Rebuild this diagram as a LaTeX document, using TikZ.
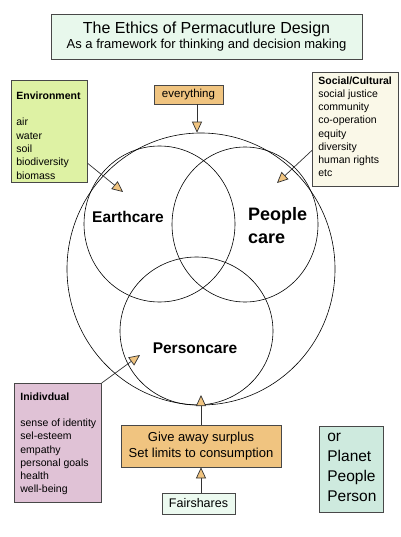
\documentclass[tikz,border=0pt]{standalone}
\usepackage{fontspec}
\setmainfont{Liberation Sans}
\usetikzlibrary{arrows.meta,shapes.geometric,calc}
\definecolor{titlefill}{RGB}{232,248,236}
\definecolor{envfill}{RGB}{222,242,164}
\definecolor{socfill}{RGB}{250,248,232}
\definecolor{indfill}{RGB}{224,194,214}
\definecolor{orangefill}{RGB}{240,196,128}
\definecolor{fairfill}{RGB}{236,250,240}
\definecolor{orfill}{RGB}{206,234,222}
\definecolor{boxline}{RGB}{72,72,72}
\definecolor{arrline}{RGB}{50,50,50}
\begin{document}
\begin{tikzpicture}[x=1pt,y=-1pt,
  box/.style={draw=boxline,line width=0.7pt,inner sep=0pt},
  arr/.style={draw=arrline,line width=0.7pt,-{Triangle[length=11pt,width=10pt,fill=orangefill]}},
  ring/.style={ellipse,draw=black,line width=0.6pt,inner sep=0pt},
  lab/.style={font=\bfseries\fontsize{15.5}{18}\selectfont}]
\useasboundingbox[fill=white] (0,0) rectangle (400,537);

% circles
\node[ring,minimum width=268pt,minimum height=272pt] (big) at (201,269) {};
\node[ring,minimum width=151pt,minimum height=156pt] (earth) at (159.5,224) {};
\node[ring,minimum width=146pt,minimum height=155pt] (people) at (245,224.5) {};
\node[ring,minimum width=153pt,minimum height=148pt] (person) at (196.5,331) {};

% labels
\node[lab] (labearth) at (128,217) {Earthcare};
\node[anchor=west,align=left,inner sep=0pt,font=\bfseries\fontsize{18}{23}\selectfont] (labpeople) at (248,225.5) {People\\care};
\node[lab] (labperson) at (195,348) {Personcare};

% title
\node[box,fill=titlefill,minimum width=311pt,minimum height=45pt,align=center] (title) at (206.5,36.5)
  {\fontsize{16}{18}\selectfont The Ethics of Permacutlure Design\\[1pt]
   \fontsize{13}{16}\selectfont As a framework for thinking and decision making};

% everything
\node[box,fill=orangefill,minimum width=69pt,minimum height=19pt,font=\fontsize{11.5}{14}\selectfont] (every) at (188.5,94.5) {everything};

% environment
\node[box,fill=envfill,anchor=north west] (env) at (11,80)
  {\begin{minipage}[t][102pt][t]{76pt}\fontsize{10.5}{13.3}\selectfont\raggedright\leftskip=5pt
   \rule{0pt}{19pt}\textbf{Environment}\\ \mbox{}\\ air\\ water\\ soil\\ biodiversity\\ biomass
   \end{minipage}};

% social
\node[box,fill=socfill,anchor=north west] (soc) at (312,72)
  {\begin{minipage}[t][114pt][t]{86pt}\fontsize{10.5}{13.2}\selectfont\raggedright\leftskip=6pt
   \rule{0pt}{12pt}\textbf{Social/Cultural}\\ social justice\\ community\\ co-operation\\ equity\\ diversity\\ human rights\\ etc
   \end{minipage}};

% individual
\node[box,fill=indfill,anchor=north west] (ind) at (14,383)
  {\begin{minipage}[t][119pt][t]{87pt}\fontsize{10.5}{13.2}\selectfont\raggedright\leftskip=6pt
   \rule{0pt}{17pt}\textbf{Inidivdual}\\ \mbox{}\\ sense of identity\\ sel-esteem\\ empathy\\ personal goals\\ health\\ well-being
   \end{minipage}};

% give away
\node[box,fill=orangefill,minimum width=160pt,minimum height=42pt,align=center,font=\fontsize{13}{16}\selectfont] (give) at (201,446)
  {Give away surplus\\Set limits to consumption};

% fairshares
\node[box,fill=fairfill,minimum width=73pt,minimum height=21pt,font=\fontsize{12.5}{15}\selectfont] (fair) at (198.5,503.5) {Fairshares};

% or box
\node[box,fill=orfill,anchor=north west] (orbox) at (319,426)
  {\begin{minipage}[t][86pt][t]{64pt}\fontsize{15.5}{20}\selectfont\raggedright\leftskip=8pt
   \rule{0pt}{15pt}or\\ Planet\\ People\\ Person
   \end{minipage}};

% arrow end points
\coordinate (envtip) at (123,192);
\coordinate (soctip) at (277,183);
\coordinate (indtip) at (140,355);
\coordinate (givetip) at (201,395);

% arrows
\draw[arr] ($(every.south)+(8.5,0)$) -- ($(big.north)+(-4,0)$);
\draw[arr] ($(env.east)+(0,32)$) -- (envtip);
\draw[arr] ($(soc.west)+(0,21)$) -- (soctip);
\draw[arr] (ind.north east) -- (indtip);
\draw[arr] (give.north) -- (givetip);
\draw[arr] (fair.north -| give.south) -- (give.south);
\end{tikzpicture}
\end{document}
